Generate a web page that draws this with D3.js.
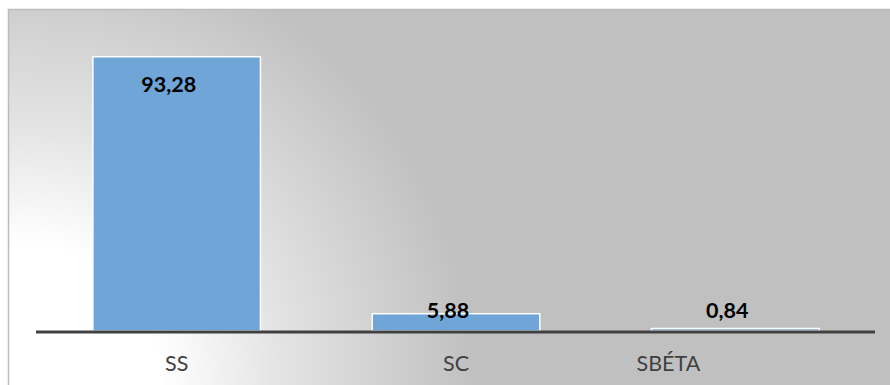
<!DOCTYPE html>
<html>
<head>
<meta charset="utf-8">
<script src="https://cdn.jsdelivr.net/npm/d3@7"></script>
<style>
  html, body { margin: 0; padding: 0; background: #fff; }
  svg { display: block; }
</style>
</head>
<body>
<svg id="chart" width="890" height="385"></svg>
<script>
// Share of each haemoglobin genotype (%)
const categories = ["SS", "SC", "SBÉTA"];
const values = [93.28, 5.88, 0.84];
const valueLabels = ["93,28", "5,88", "0,84"];

const W = 890, H = 385;
const plot = { left: 37, right: 875, top: 37, bottom: 331 };
// horizontal nudge applied to individual category labels
const tickShift = { "SBÉTA": -67 };

const svg = d3.select("#chart");
const defs = svg.append("defs");

// chart-area fill: white in the lower-left corner fading to grey
const grad = defs.append("radialGradient")
  .attr("id", "bg")
  .attr("gradientUnits", "userSpaceOnUse")
  .attr("cx", 20).attr("cy", 385).attr("r", 470);
grad.append("stop").attr("offset", "0.3").attr("stop-color", "#ffffff");
grad.append("stop").attr("offset", "0.55").attr("stop-color", "#e4e4e4");
grad.append("stop").attr("offset", "0.97").attr("stop-color", "#c0c0c0");

svg.append("rect")
  .attr("x", 8).attr("y", 9)
  .attr("width", W - 8).attr("height", H - 9)
  .attr("fill", "url(#bg)");
// chart-area border (top and left edges visible)
svg.append("path")
  .attr("d", `M8.5,${H} V9.5 H${W}`)
  .attr("fill", "none")
  .attr("stroke", "#bcbcbc")
  .attr("stroke-width", 1.5);

const x = d3.scaleBand()
  .domain(categories)
  .range([plot.left, plot.right])
  .paddingInner(0.4)
  .paddingOuter(0.2);

const y = d3.scaleLinear()
  .domain([0, 100])
  .range([plot.bottom, plot.top]);

const data = categories.map((c, i) => ({ cat: c, v: values[i], label: valueLabels[i] }));

// bars
svg.append("g").selectAll("rect")
  .data(data)
  .join("rect")
  .attr("x", d => x(d.cat))
  .attr("y", d => y(d.v))
  .attr("width", x.bandwidth())
  .attr("height", d => y(0) - y(d.v))
  .attr("fill", "#6fa5d7")
  .attr("stroke", "#ffffff")
  .attr("stroke-width", 1.5);

// category axis
const xAxis = svg.append("g")
  .attr("transform", `translate(0,${plot.bottom + 1})`)
  .call(d3.axisBottom(x).tickSize(0).tickPadding(0));
xAxis.select(".domain")
  .attr("d", `M${plot.left - 1},0H${plot.right}`)
  .attr("stroke", "#404040")
  .attr("stroke-width", 3);
xAxis.selectAll(".tick text")
  .attr("font-family", "Lato, 'Open Sans', sans-serif")
  .attr("font-size", 21.5)
  .attr("fill", "#404040")
  .attr("dy", null)
  .attr("y", 38.5)
  .attr("dx", d => tickShift[d] || 0);

// value labels
svg.append("g").selectAll("text")
  .data(data)
  .join("text")
  .attr("x", d => x(d.cat) + x.bandwidth() / 2 - 8)
  .attr("y", d => (y(0) - y(d.v) > 40) ? y(d.v) + 35 : y(0) - 13)
  .attr("text-anchor", "middle")
  .attr("font-family", "Lato, 'Open Sans', sans-serif")
  .attr("font-weight", "bold")
  .attr("font-size", 21.5)
  .attr("fill", "#000")
  .text(d => d.label);
</script>
</body>
</html>
